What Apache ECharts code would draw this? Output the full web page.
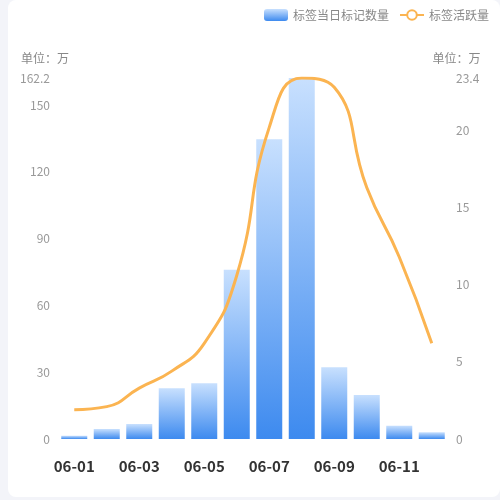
<!DOCTYPE html>
<html>
<head>
<meta charset="utf-8">
<script src="https://cdn.jsdelivr.net/npm/echarts@6/dist/echarts.min.js"></script>
<style>
html, body { margin: 0; padding: 0; background: #f3f4f9; }
#card { position: absolute; left: 8px; top: 0; width: 492px; height: 497px; background: #fff; border-radius: 8px; }
#main { position: absolute; left: -8px; top: 0; width: 500px; height: 500px; }
</style>
</head>
<body>
<div id="card"><div id="main"></div></div>
<script>
var days = ['06-01','06-02','06-03','06-04','06-05','06-06','06-07','06-08','06-09','06-10','06-11','06-12'];
var markCount = [1.5, 4.5, 6.7, 22.8, 25.1, 76.1, 134.7, 162.2, 32.2, 19.8, 6, 3];
var activeCount = [1.9, 2.1, 3.3, 4.4, 6.2, 10.6, 20.2, 23.4, 22.8, 16.3, 11.8, 6.2];
var leftMax = 162.2;
var rightMax = 23.4;

var myChart = echarts.init(document.getElementById('main'));

var barColor = new echarts.graphic.LinearGradient(0, 0, 0, 1, [
    { offset: 0, color: '#c8e0fe' },
    { offset: 1, color: '#3d8aef' }
]);

var option = {
    textStyle: { fontFamily: 'Noto Sans CJK SC' },
    legend: {
        right: 6,
        top: 4,
        itemWidth: 24,
        itemHeight: 12,
        itemGap: 10,
        textStyle: { color: '#888', fontSize: 12 },
        data: [
            { name: '标签当日标记数量', itemStyle: { color: barColor, borderRadius: 4 } },
            { name: '标签活跃量' }
        ]
    },
    grid: { left: 58, right: 52, top: 78, bottom: 61 },
    xAxis: {
        type: 'category',
        data: days,
        axisLine: { show: false },
        axisTick: { show: false },
        axisLabel: { interval: 1, color: '#333', fontWeight: 'bold', fontSize: 15, margin: 20 }
    },
    yAxis: [
        {
            type: 'value',
            name: '单位：万',
            nameGap: 14,
            nameTextStyle: { color: '#888', fontSize: 12, align: 'center', padding: [0, 26, 0, 0] },
            min: 0,
            max: leftMax,
            interval: 30,
            axisLabel: { color: '#999', fontSize: 12, showMaxLabel: true },
            splitLine: { show: false },
            axisLine: { show: false },
            axisTick: { show: false }
        },
        {
            type: 'value',
            name: '单位：万',
            nameGap: 14,
            nameTextStyle: { color: '#888', fontSize: 12, align: 'center', padding: [0, 0, 0, 17] },
            min: 0,
            max: rightMax,
            interval: 5,
            axisLabel: { color: '#999', fontSize: 12, showMaxLabel: true },
            splitLine: { show: false },
            axisLine: { show: false },
            axisTick: { show: false }
        }
    ],
    series: [
        {
            name: '标签当日标记数量',
            type: 'bar',
            barCategoryGap: '20%',
            data: markCount,
            itemStyle: { color: barColor }
        },
        {
            name: '标签活跃量',
            type: 'line',
            yAxisIndex: 1,
            smooth: true,
            showSymbol: false,
            symbol: 'emptyCircle',
            symbolSize: 8,
            data: activeCount,
            lineStyle: { color: '#fbb451', width: 3 },
            itemStyle: { color: '#fbb451' }
        }
    ]
};

myChart.setOption(option);
</script>
</body>
</html>
